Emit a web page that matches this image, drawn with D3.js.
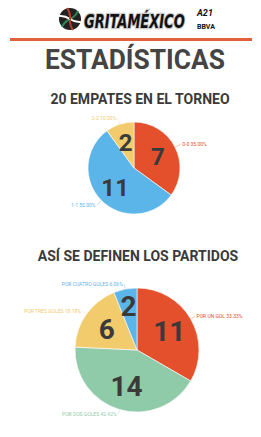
<!DOCTYPE html>
<html>
<head>
<meta charset="utf-8">
<script src="https://cdn.jsdelivr.net/npm/d3@7"></script>
<style>
	body { margin: 0; background: #fff; }
	svg { display: block; font-family: Roboto, "Noto Sans", sans-serif; }
</style>
</head>
<body>
<div id="chart"></div>
<script>
// empates por marcador
var drawLabels = ["0-0", "1-1", "2-2"];
var drawValues = [7, 11, 2];
var drawColors = ["#e4502b", "#5cb5e9", "#f2cb6c"];

// partidos por diferencia de goles
var marginLabels = ["POR UN GOL", "POR DOS GOLES", "POR TRES GOLES", "POR CUATRO GOLES"];
var marginValues = [11, 14, 6, 2];
var marginColors = ["#e4502b", "#8fcaa9", "#f2cb6c", "#5cb5e9"];

var width = 261, height = 437;

var svg = d3.select("#chart").append("svg")
	.attr("width", width)
	.attr("height", height);

/*
 * header: logo, line and title
 */
var logo = svg.append("g").attr("class", "logo");
logo.append("circle")
	.attr("cx", 70).attr("cy", 19).attr("r", 11)
	.attr("fill", "#222");
[0, 60, 120, 180, 240, 300].forEach(function(a, i) {
	logo.append("path")
		.attr("transform", "translate(70,19) rotate(" + a + ")")
		.attr("d", "M0,0 Q6,-3 8,-8")
		.attr("fill", "none")
		.attr("stroke", ["#2e8b57", "#fff", "#c0392b"][i % 3])
		.attr("stroke-width", 2);
});
logo.append("text")
	.attr("transform", "translate(84,28) scale(1,1.45)")
	.attr("font-family", "DejaVu Sans")
	.attr("font-weight", "bold")
	.attr("font-style", "italic")
	.attr("font-size", 13)
	.attr("fill", "#111")
	.attr("stroke", "#ccc")
	.attr("stroke-width", 1.8)
	.attr("paint-order", "stroke")
	.text("GRITAMÉXICO");
logo.append("text")
	.attr("x", 197).attr("y", 16)
	.attr("font-weight", "bold").attr("font-style", "italic")
	.attr("font-size", 9).attr("fill", "#111")
	.text("A21");
logo.append("text")
	.attr("x", 197).attr("y", 29)
	.attr("font-weight", "bold")
	.attr("font-size", 7).attr("fill", "#111")
	.text("BBVA");

svg.append("line")
	.attr("x1", 10).attr("x2", 252)
	.attr("y1", 39.5).attr("y2", 39.5)
	.attr("stroke", "#e2603b")
	.attr("stroke-width", 3);

svg.append("text")
	.attr("x", 135).attr("y", 69)
	.attr("text-anchor", "middle")
	.attr("font-weight", "bold")
	.attr("font-size", 28)
	.attr("textLength", 180)
	.attr("lengthAdjust", "spacingAndGlyphs")
	.attr("fill", "#444")
	.text("ESTADÍSTICAS");

/*
 * pie with numbers inside and small labels outside
 */
function drawPie(opts) {
	var g = svg.append("g")
		.attr("transform", "translate(" + opts.cx + "," + opts.cy + ")");

	var total = d3.sum(opts.values);
	var data = opts.values.map(function(v, i) {
		return { label: opts.labels[i], value: v, color: opts.colors[i] };
	});

	var pie = d3.pie().sort(null).value(function(d) { return d.value; });
	var arc = d3.arc().innerRadius(0).outerRadius(opts.r);
	var edge = d3.arc().innerRadius(opts.r * 1.01).outerRadius(opts.r * 1.01);
	var outer = d3.arc().innerRadius(opts.r * opts.labR).outerRadius(opts.r * opts.labR);

	// small slices get their number pushed further out
	function numArc(d) {
		var k = (d.endAngle - d.startAngle) < 0.5 ? opts.numSmallR : opts.numR;
		return d3.arc().innerRadius(opts.r * k).outerRadius(opts.r * k).centroid(d);
	}

	var slices = g.selectAll(".slice")
		.data(pie(data))
		.enter()
			.append("g")
				.attr("class", "slice");

	slices.append("path")
		.attr("d", arc)
		.attr("fill", function(d) { return d.data.color; })
		.attr("stroke", "#fff")
		.attr("stroke-width", 0.6);

	slices.append("text")
		.attr("transform", function(d) {
			var c = numArc(d);
			return "translate(" + c[0] + "," + c[1] + ")";
		})
		.attr("text-anchor", "middle")
		.attr("dy", "0.36em")
		.attr("font-weight", "bold")
		.attr("font-size", opts.numSize)
		.attr("fill", "#3a3a3a")
		.text(function(d) { return d.data.value; });

	slices.append("polyline")
		.attr("points", function(d) {
			return [edge.centroid(d), outer.centroid(d)].join(" ");
		})
		.attr("fill", "none")
		.attr("stroke", function(d) { return d.data.color; })
		.attr("stroke-width", 0.5)
		.attr("opacity", 0.7);

	slices.append("text")
		.attr("transform", function(d) {
			var c = outer.centroid(d);
			var right = (d.startAngle + d.endAngle) / 2 < Math.PI;
			return "translate(" + (c[0] + (right ? 1.5 : -1.5)) + "," + c[1] + ")";
		})
		.attr("text-anchor", function(d) {
			return (d.startAngle + d.endAngle) / 2 < Math.PI ? "start" : "end";
		})
		.attr("dy", "0.35em")
		.attr("font-size", 5)
		.attr("fill", function(d) { return d.data.color; })
		.text(function(d) {
			return d.data.label + " " + (d.data.value / total * 100).toFixed(2) + "%";
		});
}

svg.append("text")
	.attr("x", 140).attr("y", 104)
	.attr("text-anchor", "middle")
	.attr("font-weight", "bold")
	.attr("font-size", 14)
	.attr("fill", "#3a3a3a")
	.text("20 EMPATES EN EL TORNEO");

drawPie({
	cx: 134, cy: 168, r: 46,
	values: drawValues, labels: drawLabels, colors: drawColors,
	numR: 0.58, numSmallR: 0.58, labR: 1.14, numSize: 24
});

svg.append("text")
	.attr("x", 138).attr("y", 261)
	.attr("text-anchor", "middle")
	.attr("font-weight", "bold")
	.attr("font-size", 14)
	.attr("fill", "#3a3a3a")
	.text("ASÍ SE DEFINEN LOS PARTIDOS");

drawPie({
	cx: 137, cy: 350, r: 62,
	values: marginValues, labels: marginLabels, colors: marginColors,
	numR: 0.6, numSmallR: 0.72, labR: 1.08, numSize: 28
});
</script>
</body>
</html>
